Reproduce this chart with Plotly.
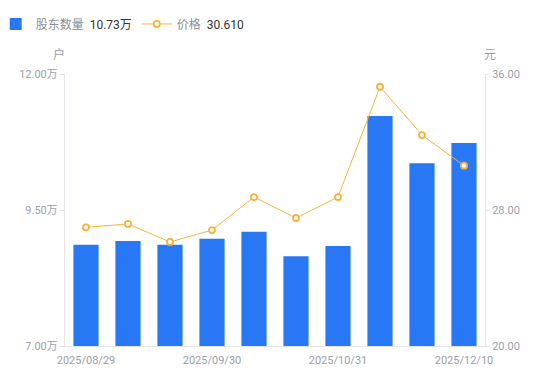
import plotly.graph_objects as go

dates = ["2025/08/29", "2025/09/10", "2025/09/19", "2025/09/30", "2025/10/10",
         "2025/10/20", "2025/10/31", "2025/11/10", "2025/11/20", "2025/12/10"]
holders = [8.86, 8.93, 8.86, 8.97, 9.10, 8.65, 8.84, 11.23, 10.36, 10.73]  # 万户
price = [26.98, 27.18, 26.12, 26.82, 28.76, 27.53, 28.76, 35.25, 32.41, 30.61]
tick_dates = [dates[0], dates[3], dates[6], dates[9]]
left_ticks = [7.0, 9.5, 12.0]
left_ticktext = ["7.00万", "9.50万", "12.00万"]
right_ticks = [20, 28, 36]
right_ticktext = ["20.00", "28.00", "36.00"]

BLUE = "#2878F5"
ORANGE = "#F7B23B"
GRAY = "#9A9EAB"
AXIS = "#E3E5EA"

fig = go.Figure()
fig.add_trace(go.Bar(
    x=dates, y=holders, name="股东数量&nbsp;&nbsp;<span style='color:#333'>10.73万</span>",
    marker=dict(color=BLUE, line=dict(width=0)), width=0.6, yaxis="y",
))
fig.add_trace(go.Scatter(
    x=dates, y=price, name="价格&nbsp;&nbsp;<span style='color:#333'>30.610</span>",
    mode="lines+markers", yaxis="y2",
    line=dict(color=ORANGE, width=1),
    marker=dict(size=6, color="white", line=dict(color=ORANGE, width=1.8)),
))

fig.update_layout(
    width=550, height=381,
    margin=dict(l=57, r=73, t=66, b=43, autoexpand=False),
    paper_bgcolor="white", plot_bgcolor="white",
    font=dict(family="Roboto, 'Noto Sans CJK SC', sans-serif", size=11, color=GRAY),
    showlegend=True,
    legend=dict(orientation="h", x=-0.165, xanchor="left", y=1.184, yanchor="middle",
                font=dict(size=12, color="#8A8E99"), itemwidth=30,
                bgcolor="rgba(0,0,0,0)", traceorder="normal"),
    bargap=0.4,
    xaxis=dict(type="category", range=[-0.5, len(dates) - 0.5], autorange=False,
               tickmode="array", tickvals=tick_dates, ticktext=tick_dates,
               showgrid=False, showline=True, linecolor=AXIS, linewidth=1,
               ticks="", ticklabelstandoff=4, tickfont=dict(size=11, color=GRAY),
               zeroline=False, automargin=False),
    yaxis=dict(range=[7, 12], tickmode="array", tickvals=left_ticks, ticktext=left_ticktext,
               showgrid=False, showline=True, linecolor=AXIS, linewidth=1,
               ticks="outside", ticklen=4, tickcolor=AXIS,
               tickfont=dict(size=11, color=GRAY), zeroline=False, automargin=False),
    yaxis2=dict(range=[20, 36], tickmode="array", tickvals=right_ticks, ticktext=right_ticktext,
                overlaying="y", side="right",
                showgrid=False, showline=True, linecolor=AXIS, linewidth=1,
                ticks="outside", ticklen=4, tickcolor=AXIS,
                tickfont=dict(size=11, color=GRAY), zeroline=False, automargin=False),
    annotations=[
        dict(text="户", xref="paper", yref="paper", x=-0.015, y=1.035, showarrow=False,
             font=dict(size=12, color=GRAY), xanchor="center", yanchor="bottom"),
        dict(text="元", xref="paper", yref="paper", x=1.012, y=1.035, showarrow=False,
             font=dict(size=12, color=GRAY), xanchor="center", yanchor="bottom"),
    ],
)

fig.write_html("out.html")
